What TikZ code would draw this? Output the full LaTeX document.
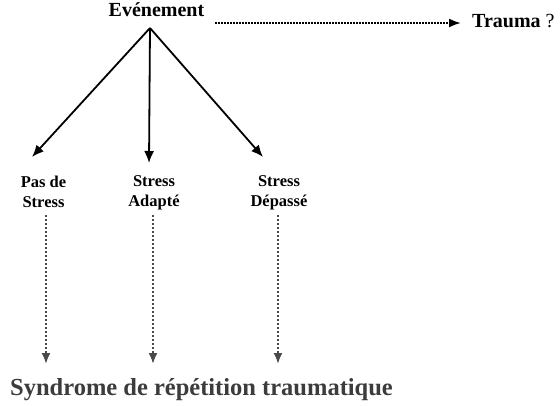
\documentclass[tikz,border=0pt]{standalone}
\usepackage{fontspec}
\setmainfont{Liberation Serif}
\usetikzlibrary{arrows.meta}
\definecolor{dgray}{HTML}{3C3C3C}
\definecolor{mgray}{HTML}{4A4A4A}
\begin{document}
\begin{tikzpicture}[x=1pt,y=-1pt,
  toptxt/.style={inner sep=0pt,font=\fontsize{20}{23}\selectfont},
  lbl/.style={inner sep=0pt,align=center,font=\fontsize{16.5}{20}\selectfont\bfseries},
  solidarrow/.style={line width=1.8pt,-{Latex[length=12pt,width=10pt]}},
  dotarrow/.style={line width=2pt,dash pattern=on 1.5pt off 1.5pt,-{Latex[length=12pt,width=9pt]}},
  grayarrow/.style={line width=2pt,mgray,dash pattern=on 2pt off 2pt,-{Latex[length=11pt,width=9pt]}}]
\useasboundingbox (0,0) rectangle (560,405);
\fill[white] (0,0) rectangle (560,405);
% top row
\node[toptxt,anchor=base] (ev) at (156.5,16) {\bfseries Evénement};
\node[toptxt,anchor=base west] (tr) at (472,27) {\textbf{Trauma} ?};
\coordinate (hs) at (215,23);
\coordinate (he) at (461,23);
\draw[dotarrow] (hs) -- (he);
% solid arrows
\coordinate (apex) at (150,28);
\coordinate (e1) at (32,157);
\coordinate (e2) at (149,163);
\coordinate (e3) at (263,157);
\draw[solidarrow] (apex) -- (e1);
\draw[solidarrow] (apex) -- (e2);
\draw[solidarrow] (apex) -- (e3);
% labels
\node[lbl,anchor=north] (l1) at (43.5,175.5) {Pas de\\Stress};
\node[lbl,anchor=north] (l2) at (154,175.5) {Stress\\Adapté};
\node[lbl,anchor=north] (l3) at (279,175.5) {Stress\\Dépassé};
% dotted gray arrows
\coordinate (s1) at (46,215);
\coordinate (s2) at (153,215);
\coordinate (s3) at (278,215);
\coordinate (t1) at (46,364);
\coordinate (t2) at (153,364);
\coordinate (t3) at (278,364);
\draw[grayarrow] (s1) -- (t1);
\draw[grayarrow] (s2) -- (t2);
\draw[grayarrow] (s3) -- (t3);
% bottom text
\node[inner sep=0pt,anchor=base west,text=dgray,font=\fontsize{24.5}{28}\selectfont\bfseries] (syn) at (10,395) {Syndrome de répétition traumatique};
\end{tikzpicture}
\end{document}
